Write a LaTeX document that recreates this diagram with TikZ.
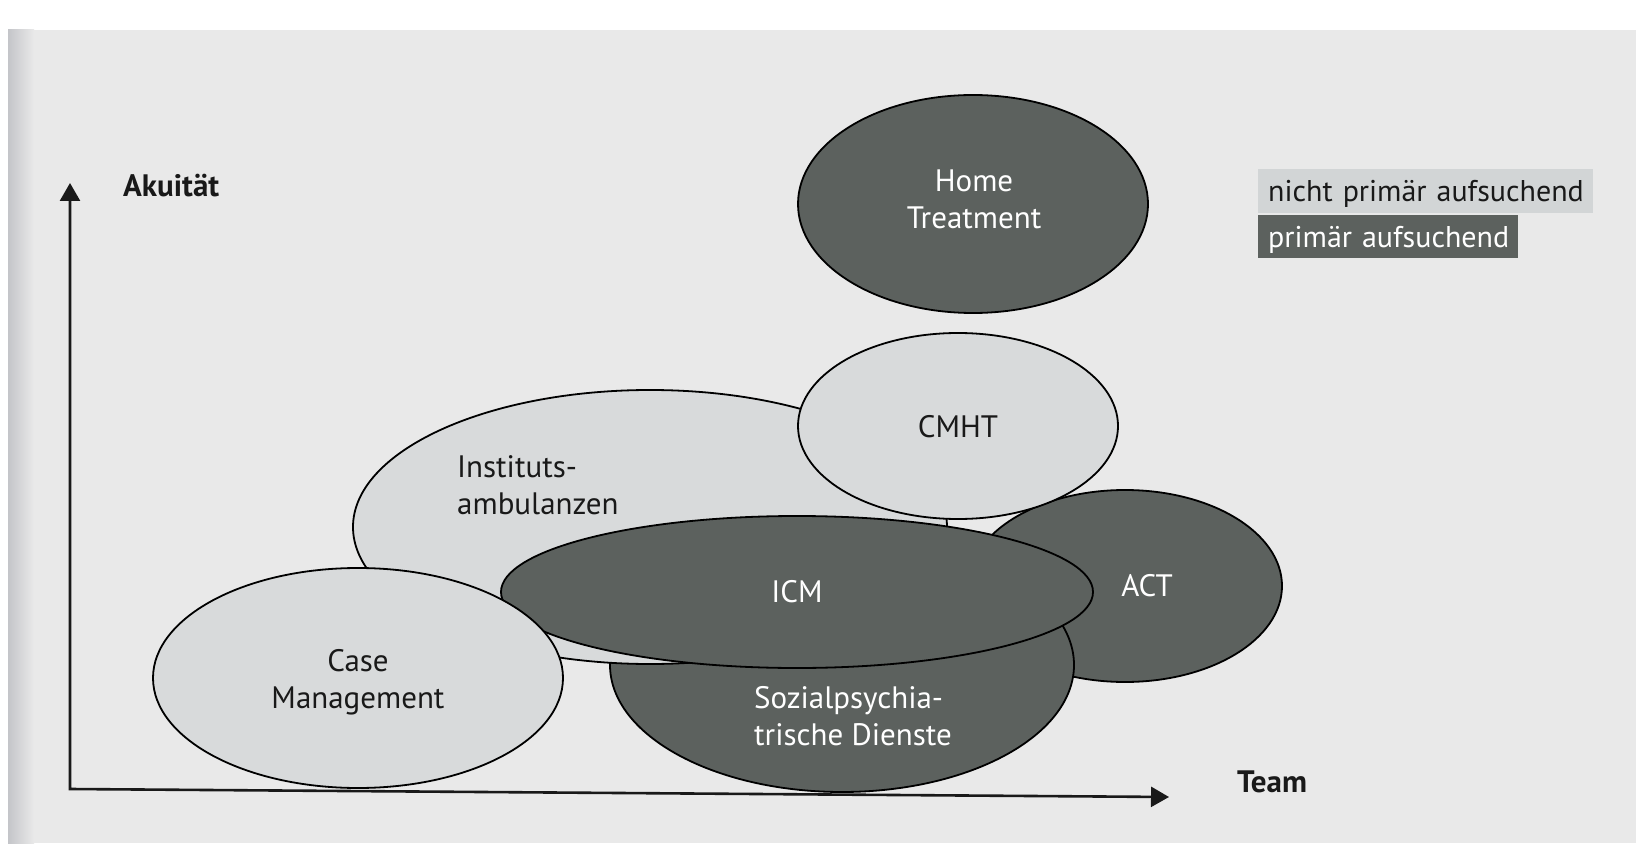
\documentclass[tikz,border=0pt]{standalone}
\usepackage{fontspec}
\setmainfont{PT Sans}
\usetikzlibrary{shapes.geometric,arrows.meta}
\definecolor{darkfill}{HTML}{5C615E}
\definecolor{lightfill}{HTML}{D8DADB}
\definecolor{legendlight}{HTML}{D2D5D6}
\definecolor{pagebg}{HTML}{E9E9E9}
\definecolor{edgebg}{HTML}{C4C5C9}
\begin{document}
\begin{tikzpicture}[x=1pt,y=-1pt,
  blob/.style={ellipse, draw=black, line width=1.8pt, inner sep=0pt, outer sep=0pt},
  darkblob/.style={blob, fill=darkfill},
  lightblob/.style={blob, fill=lightfill},
  lab/.style={font=\fontsize{31}{37}\selectfont, inner sep=0pt},
  darklab/.style={lab, text=white},
  lightlab/.style={lab, text=black!90},
  axislabel/.style={font=\fontsize{31}{37}\selectfont\bfseries, inner sep=0pt, text=black!90},
  axisline/.style={line width=2.6pt, draw=black!90,
    {Triangle[width=20pt,length=18pt]}-{Triangle[width=20pt,length=18pt]}},
  legendbox/.style={anchor=north west, inner xsep=10pt, inner ysep=0pt, align=left,
    font=\fontsize{30}{37}\selectfont}]
\useasboundingbox (0,0) rectangle (1636,853);
\fill[white] (0,0) rectangle (1636,853);
\fill[pagebg] (8,30) rectangle (1636,843);
\shade[left color=edgebg, right color=pagebg] (8,30) rectangle (34,843);

% axes
\coordinate (O) at (70,789);
\coordinate (ytip) at (70,183);
\coordinate (xtip) at (1169,797);
\draw[axisline] (ytip) -- (O) -- (xtip);
\node[axislabel, anchor=west] (akut) at (123,186) {Akuität};
\node[axislabel, anchor=west] (team) at (1237,782) {Team};

% ellipses (back to front)
\node[darkblob, minimum width=314pt, minimum height=192pt] (act) at (1125,586) {};
\node[darkblob, minimum width=464pt, minimum height=254pt] (spd) at (842,665) {};
\node[lightblob, minimum width=594pt, minimum height=274pt] (ia) at (650,527) {};
\node[darkblob, minimum width=592pt, minimum height=152pt] (icm) at (797,592) {};
\node[lightblob, minimum width=410pt, minimum height=220pt] (cm) at (358,678) {};
\node[lightblob, minimum width=320pt, minimum height=186pt] (cmht) at (958,426) {};
\node[darkblob, minimum width=350pt, minimum height=218pt] (ht) at (973,204) {};

% labels
\node[darklab, align=center] (htl) at (974,199) {Home\\Treatment};
\node[lightlab] (cmhtl) at (958,427) {CMHT};
\node[lightlab, align=left, anchor=west] (ial) at (457,485) {Instituts-\\ambulanzen};
\node[darklab] (icml) at (797,592) {ICM};
\node[darklab] (actl) at (1147,586) {ACT};
\node[lightlab, align=center] (cml) at (358,682) {Case\\Management};
\node[darklab, align=left, anchor=west] (spdl) at (754,716) {Sozialpsychia-\\trische Dienste};

% legend
\node[legendbox, fill=legendlight, text=black!90, text width=315pt, minimum height=44pt] (leg1) at (1258,169) {\raisebox{-3pt}[\height][\depth]{nicht primär aufsuchend}};
\node[legendbox, fill=darkfill, text=white, text width=240pt, minimum height=43pt] (leg2) at (1258,215) {\raisebox{-3pt}[\height][\depth]{primär aufsuchend}};
\end{tikzpicture}
\end{document}
